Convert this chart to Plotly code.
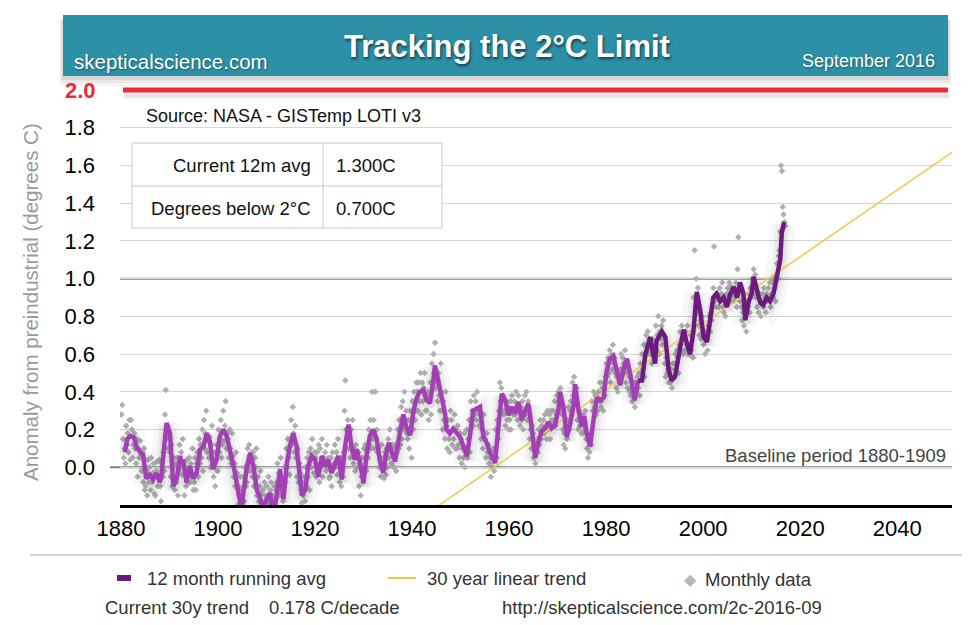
import plotly.graph_objects as go

# ---------------- data ----------------
avg_years = [1880.8, 1881.3, 1881.9, 1882.6, 1882.9, 1883.3, 1883.9, 1884.2, 1884.5, 1885.2,
             1885.9, 1886.6, 1887.3, 1888.0, 1888.3, 1889.0, 1889.4, 1890.1, 1890.8, 1891.5,
             1892.2, 1892.5, 1892.8, 1893.5, 1894.2, 1894.9, 1895.6, 1896.3, 1897.0, 1897.7,
             1898.3, 1899.0, 1899.7, 1900.4, 1901.1, 1901.8, 1902.5, 1903.5, 1904.2, 1904.9,
             1905.2, 1905.9, 1906.6, 1907.3, 1908.0, 1908.6, 1909.3, 1910.0, 1910.7, 1911.4,
             1912.1, 1912.8, 1913.5, 1914.2, 1914.8, 1915.5, 1916.2, 1916.9, 1917.3, 1918.0,
             1918.6, 1919.3, 1920.0, 1920.7, 1921.4, 1922.0, 1922.7, 1923.4, 1924.1, 1924.8,
             1925.5, 1926.2, 1926.9, 1927.6, 1928.2, 1928.6, 1929.3, 1930.0, 1930.6, 1931.3,
             1932.0, 1932.7, 1933.4, 1934.1, 1934.6, 1935.2, 1935.8, 1936.5, 1937.2, 1938.2,
             1938.8, 1939.6, 1940.3, 1941.0, 1941.6, 1942.3, 1943.0, 1943.7, 1944.4, 1944.7,
             1945.4, 1946.1, 1946.8, 1947.1, 1947.8, 1948.5, 1949.2, 1949.9, 1950.6, 1951.3,
             1952.0, 1952.6, 1953.3, 1954.0, 1954.7, 1955.4, 1956.1, 1957.1, 1957.8, 1958.5,
             1959.2, 1959.9, 1960.6, 1961.2, 1961.9, 1962.6, 1963.3, 1964.0, 1964.7, 1965.4,
             1966.0, 1966.7, 1967.4, 1968.1, 1968.8, 1969.5, 1970.2, 1970.5, 1971.2, 1971.9,
             1972.6, 1973.3, 1973.6, 1974.3, 1975.0, 1975.5, 1976.0, 1976.7, 1977.4, 1978.1,
             1978.8, 1979.5, 1980.1, 1980.8, 1981.5, 1982.2, 1982.9, 1983.6, 1984.3, 1985.0,
             1985.6, 1985.9, 1986.6, 1987.4, 1988.1, 1988.8, 1989.1, 1989.7, 1990.1, 1990.4,
             1991.1, 1991.5, 1992.2, 1992.9, 1993.5, 1994.2, 1995.3, 1996.0, 1996.6, 1997.3,
             1998.0, 1998.7, 1999.4, 2000.1, 2000.8, 2001.4, 2002.1, 2002.8, 2003.5, 2004.2,
             2004.9, 2005.6, 2006.3, 2007.0, 2007.6, 2008.3, 2008.7, 2009.4, 2010.0, 2010.4,
             2011.1, 2011.8, 2012.4, 2013.1, 2013.8, 2014.5, 2015.2, 2015.9, 2016.2, 2016.7]
avg_vals = [0.08, 0.15, 0.165, 0.16, 0.14, 0.10, 0.085, 0.067, 0.08, -0.06,
            -0.04, -0.065, -0.03, -0.08, -0.05, 0.15, 0.235, 0.18, -0.10, -0.06,
            0.06, 0.02, 0.04, -0.08, 0.005, -0.06, -0.03, 0.094, 0.11, 0.18,
            0.14, -0.01, 0.04, 0.165, 0.20, 0.165, 0.09, -0.03, -0.136, -0.225,
            -0.14, -0.01, 0.076, 0.005, -0.12, -0.155, -0.225, -0.17, -0.136, -0.26,
            -0.15, -0.01, -0.17, 0.02, 0.11, 0.18, 0.11, -0.05, -0.15, -0.12,
            0.005, 0.06, 0.04, -0.05, 0.06, 0.005, 0.04, -0.03, 0.02, 0.06,
            -0.065, 0.11, 0.226, 0.095, 0.04, 0.095, 0.02, -0.083, 0.06, 0.165,
            0.20, 0.15, 0.03, -0.03, 0.06, 0.13, 0.08, 0.03, 0.14, 0.28,
            0.215, 0.17, 0.30, 0.37, 0.40, 0.41, 0.355, 0.34, 0.46, 0.54,
            0.46, 0.37, 0.285, 0.20, 0.18, 0.205, 0.18, 0.16, 0.11, 0.058,
            0.18, 0.30, 0.31, 0.32, 0.163, 0.128, 0.075, 0.023, 0.215, 0.39,
            0.355, 0.276, 0.32, 0.285, 0.346, 0.25, 0.30, 0.337, 0.20, 0.05,
            0.128, 0.19, 0.207, 0.24, 0.207, 0.225, 0.31, 0.40, 0.32, 0.16,
            0.23, 0.33, 0.44, 0.303, 0.215, 0.27, 0.18, 0.11, 0.25, 0.37,
            0.355, 0.37, 0.51, 0.575, 0.59, 0.52, 0.435, 0.52, 0.575, 0.49,
            0.37, 0.355, 0.46, 0.46, 0.60, 0.66, 0.69, 0.60, 0.55, 0.67,
            0.70, 0.72, 0.69, 0.515, 0.46, 0.48, 0.64, 0.73, 0.66, 0.60,
            0.72, 0.93, 0.83, 0.69, 0.665, 0.76, 0.90, 0.92, 0.88, 0.90,
            0.85, 0.92, 0.956, 0.90, 0.98, 0.92, 0.78, 0.88, 0.92, 1.01,
            0.935, 0.87, 0.86, 0.90, 0.88, 0.92, 1.01, 1.10, 1.24, 1.30]
recent_start = 1986.6   # last 30 years drawn in the darker purple

monthly_first_year = 1880
monthly_vals = [
    [0.28, 0.33, 0.15, 0.05, 0.10, 0.02], [0.22, 0.12, 0.18, 0.08, 0.25, 0.04],
    [0.25, 0.20, 0.05, 0.12, 0.18, 0.10], [0.02, 0.15, -0.05, 0.10, 0.05, 0.14],
    [0.08, -0.02, 0.05, -0.08, 0.10, -0.12], [-0.10, -0.02, -0.15, 0.04, -0.08, 0.00],
    [-0.12, 0.05, -0.08, -0.03, 0.02, -0.14], [-0.15, -0.02, 0.03, -0.10, -0.06, 0.04],
    [-0.10, -0.18, 0.02, -0.05, 0.08, -0.02], [0.28, 0.41, 0.15, 0.22, 0.10, 0.18],
    [0.08, -0.05, 0.12, -0.10, 0.00, 0.05], [-0.12, 0.02, -0.08, 0.05, -0.15, -0.02],
    [0.12, 0.00, 0.08, -0.04, 0.15, 0.02], [-0.15, -0.02, -0.10, 0.04, -0.08, 0.00],
    [0.05, -0.08, 0.02, -0.05, 0.10, -0.12], [-0.08, 0.05, -0.12, 0.02, 0.08, -0.05],
    [0.15, 0.02, 0.12, 0.05, 0.20, -0.02], [0.25, 0.10, 0.18, 0.30, 0.08, 0.14],
    [0.05, 0.16, 0.00, 0.12, 0.22, 0.03], [-0.05, 0.08, -0.10, 0.04, 0.12, -0.02],
    [0.20, 0.08, 0.15, 0.25, 0.05, 0.12], [0.30, 0.14, 0.22, 0.35, 0.10, 0.18],
    [0.15, 0.05, 0.20, 0.10, 0.02, 0.18], [0.06, -0.05, 0.02, -0.10, 0.08, -0.03],
    [-0.20, -0.10, -0.15, -0.05, -0.18, -0.12], [-0.15, -0.05, -0.18, 0.00, -0.10, -0.08],
    [0.10, 0.02, 0.12, -0.02, 0.05, 0.08], [-0.05, 0.08, -0.10, 0.05, 0.00, 0.10],
    [-0.15, -0.05, -0.18, -0.10, -0.02, -0.14], [-0.18, -0.12, -0.19, -0.08, -0.15, -0.10],
    [-0.10, -0.16, -0.05, -0.19, -0.12, -0.08], [-0.18, -0.15, -0.19, -0.10, -0.17, -0.12],
    [-0.08, 0.02, -0.12, -0.03, -0.15, 0.05], [-0.15, -0.05, -0.18, -0.10, 0.00, -0.08],
    [0.10, 0.00, 0.15, 0.05, -0.04, 0.12], [0.25, 0.12, 0.32, 0.18, 0.08, 0.22],
    [0.05, -0.05, 0.10, -0.08, 0.02, -0.03], [-0.12, -0.19, -0.08, -0.15, -0.05, -0.18],
    [0.00, -0.10, 0.05, -0.05, 0.08, -0.12], [0.10, 0.00, 0.15, 0.05, -0.03, 0.08],
    [0.05, -0.05, 0.08, -0.02, 0.12, -0.08], [0.10, 0.00, 0.15, -0.05, 0.05, 0.02],
    [0.08, -0.02, 0.12, 0.00, 0.05, -0.06], [-0.05, 0.05, -0.10, 0.08, 0.00, 0.02],
    [0.12, 0.00, 0.08, -0.04, 0.15, 0.03], [-0.08, 0.05, -0.10, 0.00, -0.05, 0.08],
    [0.30, 0.46, 0.20, 0.15, 0.25, 0.10], [0.15, 0.05, 0.20, 0.10, 0.25, 0.02],
    [0.10, -0.02, 0.12, 0.05, 0.00, 0.08], [-0.10, 0.02, -0.15, -0.05, 0.05, -0.08],
    [0.10, 0.00, 0.12, -0.02, 0.08, 0.05], [0.20, 0.12, 0.25, 0.10, 0.40, 0.15],
    [0.25, 0.10, 0.40, 0.15, 0.20, 0.08], [0.10, 0.00, 0.05, -0.05, 0.12, 0.02],
    [0.05, -0.06, 0.08, -0.04, 0.10, 0.00], [0.15, 0.05, 0.20, 0.10, 0.02, 0.12],
    [0.10, 0.00, 0.05, 0.12, -0.02, 0.08], [0.20, 0.10, 0.25, 0.12, 0.32, 0.15],
    [0.35, 0.20, 0.40, 0.25, 0.30, 0.18], [0.15, 0.25, 0.10, 0.30, 0.20, 0.05],
    [0.35, 0.20, 0.40, 0.25, 0.30, 0.45], [0.40, 0.30, 0.45, 0.35, 0.50, 0.28],
    [0.45, 0.35, 0.42, 0.50, 0.30, 0.38], [0.30, 0.40, 0.25, 0.35, 0.45, 0.28],
    [0.55, 0.45, 0.60, 0.50, 0.66, 0.42], [0.45, 0.35, 0.50, 0.38, 0.30, 0.55],
    [0.30, 0.20, 0.35, 0.25, 0.15, 0.40], [0.22, 0.10, 0.25, 0.15, 0.08, 0.30],
    [0.25, 0.12, 0.20, 0.15, 0.28, 0.10], [0.20, 0.10, 0.22, 0.12, 0.05, 0.18],
    [0.15, 0.02, 0.10, 0.05, 0.18, 0.00], [0.10, 0.20, 0.05, 0.15, 0.25, 0.08],
    [0.35, 0.25, 0.30, 0.22, 0.38, 0.28], [0.35, 0.25, 0.40, 0.30, 0.22, 0.28],
    [0.25, 0.15, 0.20, 0.10, 0.28, 0.18], [0.15, 0.05, 0.18, 0.08, 0.12, 0.02],
    [0.05, -0.05, 0.08, 0.00, 0.10, -0.02], [0.10, 0.20, 0.05, 0.25, 0.15, 0.30],
    [0.45, 0.35, 0.42, 0.30, 0.38, 0.28], [0.30, 0.22, 0.35, 0.25, 0.32, 0.20],
    [0.25, 0.35, 0.20, 0.38, 0.30, 0.28], [0.35, 0.28, 0.40, 0.30, 0.25, 0.38],
    [0.30, 0.22, 0.32, 0.25, 0.35, 0.20], [0.30, 0.38, 0.28, 0.40, 0.25, 0.35],
    [0.25, 0.15, 0.20, 0.10, 0.22, 0.18], [0.05, 0.12, 0.02, 0.10, 0.15, 0.08],
    [0.20, 0.12, 0.25, 0.15, 0.22, 0.18], [0.25, 0.18, 0.28, 0.20, 0.15, 0.30],
    [0.20, 0.28, 0.15, 0.30, 0.25, 0.22], [0.30, 0.25, 0.35, 0.22, 0.28, 0.38],
    [0.40, 0.30, 0.35, 0.42, 0.32, 0.28], [0.20, 0.12, 0.18, 0.10, 0.22, 0.15],
    [0.25, 0.32, 0.20, 0.30, 0.35, 0.28], [0.45, 0.38, 0.48, 0.40, 0.35, 0.42],
    [0.25, 0.20, 0.30, 0.22, 0.28, 0.18], [0.25, 0.18, 0.28, 0.20, 0.30, 0.15],
    [0.10, 0.05, 0.15, 0.08, 0.18, 0.12], [0.35, 0.30, 0.40, 0.32, 0.38, 0.28],
    [0.38, 0.30, 0.40, 0.35, 0.45, 0.32], [0.35, 0.42, 0.30, 0.45, 0.38, 0.48],
    [0.55, 0.48, 0.58, 0.50, 0.62, 0.45], [0.60, 0.52, 0.65, 0.55, 0.58, 0.50],
    [0.42, 0.48, 0.40, 0.50, 0.45, 0.52], [0.60, 0.52, 0.58, 0.55, 0.50, 0.62],
    [0.45, 0.50, 0.42, 0.52, 0.48, 0.40], [0.38, 0.42, 0.35, 0.40, 0.45, 0.32],
    [0.45, 0.40, 0.48, 0.42, 0.50, 0.38], [0.55, 0.50, 0.60, 0.52, 0.65, 0.48],
    [0.65, 0.70, 0.60, 0.72, 0.62, 0.68], [0.60, 0.65, 0.55, 0.68, 0.62, 0.58],
    [0.65, 0.75, 0.62, 0.70, 0.80, 0.60], [0.72, 0.68, 0.75, 0.65, 0.78, 0.70],
    [0.55, 0.48, 0.58, 0.50, 0.52, 0.45], [0.50, 0.45, 0.52, 0.42, 0.55, 0.48],
    [0.55, 0.60, 0.52, 0.62, 0.58, 0.50], [0.65, 0.72, 0.62, 0.75, 0.68, 0.60],
    [0.70, 0.62, 0.72, 0.65, 0.75, 0.60], [0.65, 0.60, 0.70, 0.62, 0.72, 0.58],
    [0.90, 1.15, 0.85, 1.00, 0.82, 0.95], [0.75, 0.70, 0.78, 0.68, 0.80, 0.72],
    [0.65, 0.70, 0.60, 0.72, 0.68, 0.62], [0.75, 0.80, 0.72, 0.82, 0.78, 0.85],
    [0.95, 1.17, 0.88, 0.92, 0.85, 0.90], [0.90, 0.85, 0.95, 0.88, 0.92, 0.98],
    [0.85, 0.82, 0.90, 0.80, 0.88, 0.92], [0.95, 0.90, 0.98, 0.88, 0.96, 0.92],
    [0.92, 0.88, 0.95, 0.90, 0.98, 0.85], [1.05, 1.22, 0.92, 0.88, 0.95, 0.85],
    [0.78, 0.82, 0.75, 0.85, 0.80, 0.72], [0.88, 0.85, 0.92, 0.82, 0.95, 0.90],
    [1.00, 0.95, 1.05, 0.92, 1.02, 0.90], [0.85, 0.90, 0.82, 0.92, 0.88, 0.80],
    [0.88, 0.92, 0.85, 0.95, 0.90, 0.82], [0.92, 0.88, 0.95, 0.90, 0.98, 0.85],
    [0.92, 0.98, 0.90, 1.00, 0.95, 0.88], [1.02, 1.08, 1.00, 1.12, 1.15, 1.25],
    [1.60, 1.57, 1.38, 1.34, 1.30, 1.28],
]

trend_years = [1945.6, 2051.3]
trend_vals = [-0.20, 1.67]

x_ticks = [1880, 1900, 1920, 1940, 1960, 1980, 2000, 2020, 2040]
y_ticks = [0.0, 0.2, 0.4, 0.6, 0.8, 1.0, 1.2, 1.4, 1.6, 1.8]
y_tick_text = ["0.0", "0.2", "0.4", "0.6", "0.8", "1.0", "1.2", "1.4", "1.6", "1.8"]
limit_value = 2.0

# ---------------- build ----------------
W, H = 975, 625
OFF = 8                           # page body margin of the viewer
L, R, T, B = 120, 952, 90, 505    # plot area in window pixels

def px(x):
    return (x - L) / (R - L)

def py(y):
    return (B - y) / (B - T)

FONT = "Liberation Sans, Arial, Helvetica, sans-serif"
LIGHT_PURPLE = "#a23fb5"
DARK_PURPLE = "#6a1b7d"
GOLD = "#f2c744"

mx, my = [], []
for i, vals in enumerate(monthly_vals):
    n = len(vals)
    for k, v in enumerate(vals):
        mx.append(monthly_first_year + i + (k + 0.5) / n)
        my.append(v)

old_x = [x for x in avg_years if x <= recent_start]
old_y = [v for x, v in zip(avg_years, avg_vals) if x <= recent_start]
new_x = [x for x in avg_years if x >= recent_start]
new_y = [v for x, v in zip(avg_years, avg_vals) if x >= recent_start]

fig = go.Figure()
fig.add_trace(go.Scatter(x=mx, y=my, mode="markers",
                         marker=dict(symbol="diamond", size=5, color="#b0b0b0"),
                         hoverinfo="skip", showlegend=False))
# soft shadow under the running average
for wdt, alpha in [(24, 0.03), (15, 0.04), (9, 0.05)]:
    fig.add_trace(go.Scatter(x=avg_years, y=[v - 0.015 for v in avg_vals], mode="lines",
                             line=dict(color=f"rgba(0,0,0,{alpha})", width=wdt),
                             hoverinfo="skip", showlegend=False))
fig.add_trace(go.Scatter(x=trend_years, y=trend_vals, mode="lines",
                         line=dict(color=GOLD, width=1.5), showlegend=False))
fig.add_trace(go.Scatter(x=old_x, y=old_y, mode="lines",
                         line=dict(color=LIGHT_PURPLE, width=4.5), showlegend=False))
fig.add_trace(go.Scatter(x=new_x, y=new_y, mode="lines",
                         line=dict(color=DARK_PURPLE, width=4.5), showlegend=False))

shapes = []
shapes.append(dict(type="line", xref="paper", yref="y", x0=px(110), x1=1, y0=0.0, y1=0.0,
                   line=dict(color="#7f7f7f", width=2), layer="below"))
shapes.append(dict(type="line", xref="paper", yref="y", x0=0, x1=1, y0=1.0, y1=1.0,
                   line=dict(color="#7f7f7f", width=2), layer="below"))
# red 2 C limit line with shadow (paper refs so it is not clipped at the plot edge)
for dy, a in [(7, 0.05), (5, 0.08)]:
    shapes.append(dict(type="line", xref="paper", yref="paper", x0=px(124), x1=px(949),
                       y0=py(90 + dy), y1=py(90 + dy), line=dict(color=f"rgba(0,0,0,{a})", width=4)))
shapes.append(dict(type="line", xref="paper", yref="paper", x0=px(123), x1=px(948),
                   y0=py(90), y1=py(90), line=dict(color="#ee2a35", width=5)))
# banner shadow + banner
for off, a in [(10, 0.04), (7, 0.05), (4, 0.07)]:
    shapes.append(dict(type="rect", xref="paper", yref="paper", x0=px(63 - off / 3), x1=px(948 + off / 3),
                       y0=py(76 + off), y1=py(20), fillcolor=f"rgba(0,0,0,{a})", line=dict(width=0)))
shapes.append(dict(type="rect", xref="paper", yref="paper", x0=px(63), x1=px(948),
                   y0=py(76), y1=py(15), fillcolor="#2c91a6", line=dict(width=0)))
# table
shapes.append(dict(type="rect", xref="paper", yref="paper", x0=px(132), x1=px(442),
                   y0=py(228), y1=py(143), fillcolor="white", line=dict(color="#c8c8c8", width=1)))
shapes.append(dict(type="line", xref="paper", yref="paper", x0=px(323), x1=px(323),
                   y0=py(228), y1=py(143), line=dict(color="#c8c8c8", width=1)))
shapes.append(dict(type="line", xref="paper", yref="paper", x0=px(132), x1=px(442),
                   y0=py(186), y1=py(186), line=dict(color="#c8c8c8", width=1)))
# separator above legend
shapes.append(dict(type="line", xref="paper", yref="paper", x0=px(30), x1=px(962),
                   y0=py(555), y1=py(555), line=dict(color="#c4c4c4", width=1.5)))
# legend swatches
shapes.append(dict(type="rect", xref="paper", yref="paper", x0=px(117), x1=px(131),
                   y0=py(581), y1=py(575), fillcolor=DARK_PURPLE, line=dict(width=0)))
shapes.append(dict(type="line", xref="paper", yref="paper", x0=px(388), x1=px(416),
                   y0=py(578), y1=py(578), line=dict(color=GOLD, width=2)))

ann = []
def text(x, y, s, size=18, color="#111", xanchor="left", bold=False, family=FONT, bg=None, shadow=None):
    f = dict(family=family, size=size, color=color)
    if shadow:
        f["shadow"] = shadow
    d = dict(x=px(x), y=py(y), xref="paper", yref="paper", text=f"<b>{s}</b>" if bold else s,
             showarrow=False, xanchor=xanchor, yanchor="middle", font=f)
    if bg:
        d["bgcolor"] = bg
        d["borderpad"] = 0
    ann.append(d)

text(507, 46, "Tracking the 2°C Limit", size=31, color="white", xanchor="center", bold=True,
     shadow="1px 2px 3px rgba(0,0,0,0.6)")
text(72, 61, "skepticalscience.com", size=20.5, color="white", shadow="1px 1px 2px rgba(0,0,0,0.4)")
text(937, 61, "September 2016", size=18, color="white", xanchor="right",
     shadow="1px 1px 2px rgba(0,0,0,0.4)")
text(80, 90, "2.0", size=22, color="#ee2a35", xanchor="center", bold=True)
text(145, 116, "Source: NASA - GISTemp LOTI v3", size=18, bg="white")
text(313, 165, "Current 12m avg", size=18.5, xanchor="right")
text(334, 165, "1.300C", size=18.5)
text(313, 208, "Degrees below 2°C", size=18.5, xanchor="right")
text(334, 208, "0.700C", size=18.5)
text(948, 455, "Baseline period 1880-1909", size=18.5, color="#444", xanchor="right")
text(145, 578, "12 month running avg", size=18.5, color="#333")
text(425, 578, "30 year linear trend", size=18.5, color="#333")
text(690, 579, "◆", size=16, color="#b8b8b8", xanchor="center", family="DejaVu Sans")
text(703, 579, "Monthly data", size=18.5, color="#333")
text(103, 607, "Current 30y trend", size=18.5, color="#333")
text(267, 607, "0.178 C/decade", size=18.5, color="#333")
text(500, 607, "http://skepticalscience.com/2c-2016-09", size=18.5, color="#333")
ann.append(dict(x=px(30), y=py(302), xref="paper", yref="paper",
                text="Anomaly from preindustrial (degrees C)", textangle=-90, showarrow=False,
                xanchor="center", yanchor="middle", font=dict(family=FONT, size=20.5, color="#9a9a9a")))

fig.update_layout(
    width=W, height=H,
    margin=dict(l=L - OFF, r=W - R + OFF, t=T - OFF, b=H - B + OFF, pad=0),
    paper_bgcolor="white", plot_bgcolor="white",
    showlegend=False,
    shapes=shapes, annotations=ann,
    xaxis=dict(range=[1879.8, 2051.3], tickvals=x_ticks, showgrid=False, zeroline=False,
               showline=True, linecolor="black", linewidth=2.5, ticks="",
               ticklabelstandoff=2,
               tickfont=dict(family=FONT, size=22, color="black")),
    yaxis=dict(range=[-0.2, 2.0], tickvals=y_ticks, ticktext=y_tick_text, showgrid=True,
               gridcolor="#d6d6d6", gridwidth=1.2, zeroline=False, showline=False, ticks="",
               ticklabelstandoff=24,
               tickfont=dict(family=FONT, size=22, color="black")),
)

fig.write_html("out.html")
